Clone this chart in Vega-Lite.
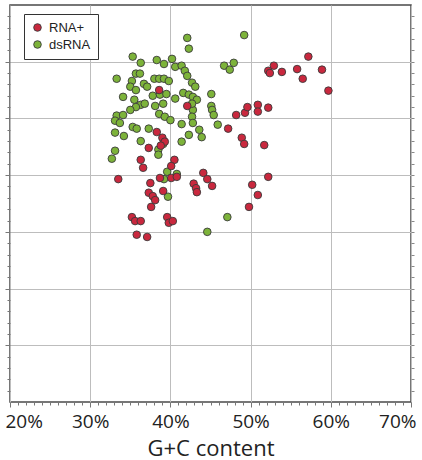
{
  "$schema": "https://vega.github.io/schema/vega-lite/v6.json",
  "width": 401,
  "height": 397,
  "autosize": {"type": "none"},
  "padding": {"left": 10, "top": 5, "right": 11, "bottom": 58},
  "config": {
    "view": {"stroke": "#4a4a4a", "strokeWidth": 1.5},
    "font": "Open Sans",
    "axis": {"domain": false}
  },
  "data": {
    "values": [
      {"gc": 42.1, "v": 6.42, "type": "dsRNA"},
      {"gc": 42.3, "v": 6.23, "type": "dsRNA"},
      {"gc": 49.2, "v": 6.47, "type": "dsRNA"},
      {"gc": 35.3, "v": 6.09, "type": "dsRNA"},
      {"gc": 36.3, "v": 5.98, "type": "dsRNA"},
      {"gc": 38.3, "v": 6.03, "type": "dsRNA"},
      {"gc": 39.2, "v": 5.96, "type": "dsRNA"},
      {"gc": 40.2, "v": 6.05, "type": "dsRNA"},
      {"gc": 40.6, "v": 5.91, "type": "dsRNA"},
      {"gc": 41.4, "v": 5.93, "type": "dsRNA"},
      {"gc": 41.8, "v": 5.84, "type": "dsRNA"},
      {"gc": 42.1, "v": 5.75, "type": "dsRNA"},
      {"gc": 35.7, "v": 5.79, "type": "dsRNA"},
      {"gc": 36.2, "v": 5.79, "type": "dsRNA"},
      {"gc": 33.3, "v": 5.70, "type": "dsRNA"},
      {"gc": 35.2, "v": 5.66, "type": "dsRNA"},
      {"gc": 36.7, "v": 5.61, "type": "dsRNA"},
      {"gc": 38.0, "v": 5.70, "type": "dsRNA"},
      {"gc": 38.6, "v": 5.70, "type": "dsRNA"},
      {"gc": 39.2, "v": 5.70, "type": "dsRNA"},
      {"gc": 39.8, "v": 5.66, "type": "dsRNA"},
      {"gc": 42.7, "v": 5.63, "type": "dsRNA"},
      {"gc": 43.1, "v": 5.56, "type": "dsRNA"},
      {"gc": 35.0, "v": 5.56, "type": "dsRNA"},
      {"gc": 35.7, "v": 5.50, "type": "dsRNA"},
      {"gc": 37.1, "v": 5.56, "type": "dsRNA"},
      {"gc": 37.8, "v": 5.40, "type": "dsRNA"},
      {"gc": 38.7, "v": 5.42, "type": "dsRNA"},
      {"gc": 39.5, "v": 5.43, "type": "dsRNA"},
      {"gc": 40.6, "v": 5.35, "type": "dsRNA"},
      {"gc": 41.6, "v": 5.45, "type": "dsRNA"},
      {"gc": 42.3, "v": 5.42, "type": "dsRNA"},
      {"gc": 42.8, "v": 5.38, "type": "dsRNA"},
      {"gc": 43.3, "v": 5.33, "type": "dsRNA"},
      {"gc": 34.1, "v": 5.38, "type": "dsRNA"},
      {"gc": 35.5, "v": 5.33, "type": "dsRNA"},
      {"gc": 36.3, "v": 5.24, "type": "dsRNA"},
      {"gc": 36.8, "v": 5.26, "type": "dsRNA"},
      {"gc": 35.7, "v": 5.20, "type": "dsRNA"},
      {"gc": 35.0, "v": 5.15, "type": "dsRNA"},
      {"gc": 38.1, "v": 5.22, "type": "dsRNA"},
      {"gc": 39.1, "v": 5.26, "type": "dsRNA"},
      {"gc": 42.8, "v": 5.15, "type": "dsRNA"},
      {"gc": 42.7, "v": 5.26, "type": "dsRNA"},
      {"gc": 33.3, "v": 5.05, "type": "dsRNA"},
      {"gc": 34.1, "v": 5.06, "type": "dsRNA"},
      {"gc": 33.1, "v": 4.96, "type": "dsRNA"},
      {"gc": 33.7, "v": 4.92, "type": "dsRNA"},
      {"gc": 38.6, "v": 5.08, "type": "dsRNA"},
      {"gc": 39.3, "v": 5.03, "type": "dsRNA"},
      {"gc": 40.0, "v": 4.97, "type": "dsRNA"},
      {"gc": 42.7, "v": 5.03, "type": "dsRNA"},
      {"gc": 42.8, "v": 4.92, "type": "dsRNA"},
      {"gc": 41.4, "v": 4.90, "type": "dsRNA"},
      {"gc": 33.1, "v": 4.75, "type": "dsRNA"},
      {"gc": 34.2, "v": 4.69, "type": "dsRNA"},
      {"gc": 35.3, "v": 4.85, "type": "dsRNA"},
      {"gc": 35.8, "v": 4.82, "type": "dsRNA"},
      {"gc": 37.3, "v": 4.82, "type": "dsRNA"},
      {"gc": 39.1, "v": 4.55, "type": "dsRNA"},
      {"gc": 36.3, "v": 4.60, "type": "dsRNA"},
      {"gc": 41.4, "v": 4.59, "type": "dsRNA"},
      {"gc": 42.3, "v": 4.71, "type": "dsRNA"},
      {"gc": 43.6, "v": 4.80, "type": "dsRNA"},
      {"gc": 43.9, "v": 4.67, "type": "dsRNA"},
      {"gc": 33.1, "v": 4.43, "type": "dsRNA"},
      {"gc": 32.7, "v": 4.29, "type": "dsRNA"},
      {"gc": 38.5, "v": 4.45, "type": "dsRNA"},
      {"gc": 38.5, "v": 4.36, "type": "dsRNA"},
      {"gc": 39.6, "v": 4.06, "type": "dsRNA"},
      {"gc": 40.8, "v": 4.02, "type": "dsRNA"},
      {"gc": 39.7, "v": 3.62, "type": "dsRNA"},
      {"gc": 39.2, "v": 3.93, "type": "dsRNA"},
      {"gc": 44.6, "v": 3.00, "type": "dsRNA"},
      {"gc": 47.1, "v": 3.26, "type": "dsRNA"},
      {"gc": 46.7, "v": 5.93, "type": "dsRNA"},
      {"gc": 47.4, "v": 5.86, "type": "dsRNA"},
      {"gc": 47.9, "v": 5.98, "type": "dsRNA"},
      {"gc": 45.1, "v": 5.43, "type": "dsRNA"},
      {"gc": 45.1, "v": 5.22, "type": "dsRNA"},
      {"gc": 45.2, "v": 5.15, "type": "dsRNA"},
      {"gc": 45.4, "v": 5.06, "type": "dsRNA"},
      {"gc": 45.9, "v": 4.89, "type": "dsRNA"},
      {"gc": 38.6, "v": 5.50, "type": "RNA+"},
      {"gc": 42.1, "v": 5.22, "type": "RNA+"},
      {"gc": 38.3, "v": 4.76, "type": "RNA+"},
      {"gc": 39.0, "v": 4.66, "type": "RNA+"},
      {"gc": 39.3, "v": 4.59, "type": "RNA+"},
      {"gc": 37.3, "v": 4.48, "type": "RNA+"},
      {"gc": 38.8, "v": 4.52, "type": "RNA+"},
      {"gc": 36.3, "v": 4.27, "type": "RNA+"},
      {"gc": 36.6, "v": 4.13, "type": "RNA+"},
      {"gc": 40.5, "v": 4.27, "type": "RNA+"},
      {"gc": 40.1, "v": 4.16, "type": "RNA+"},
      {"gc": 38.7, "v": 3.95, "type": "RNA+"},
      {"gc": 40.1, "v": 3.95, "type": "RNA+"},
      {"gc": 40.8, "v": 3.97, "type": "RNA+"},
      {"gc": 33.5, "v": 3.93, "type": "RNA+"},
      {"gc": 44.1, "v": 4.04, "type": "RNA+"},
      {"gc": 44.6, "v": 3.93, "type": "RNA+"},
      {"gc": 45.2, "v": 3.81, "type": "RNA+"},
      {"gc": 42.9, "v": 3.85, "type": "RNA+"},
      {"gc": 43.2, "v": 3.77, "type": "RNA+"},
      {"gc": 43.3, "v": 3.70, "type": "RNA+"},
      {"gc": 37.5, "v": 3.86, "type": "RNA+"},
      {"gc": 37.3, "v": 3.69, "type": "RNA+"},
      {"gc": 37.8, "v": 3.63, "type": "RNA+"},
      {"gc": 38.1, "v": 3.56, "type": "RNA+"},
      {"gc": 39.1, "v": 3.72, "type": "RNA+"},
      {"gc": 37.6, "v": 3.44, "type": "RNA+"},
      {"gc": 35.2, "v": 3.26, "type": "RNA+"},
      {"gc": 35.6, "v": 3.19, "type": "RNA+"},
      {"gc": 36.3, "v": 3.19, "type": "RNA+"},
      {"gc": 39.6, "v": 3.26, "type": "RNA+"},
      {"gc": 39.8, "v": 3.16, "type": "RNA+"},
      {"gc": 40.3, "v": 3.19, "type": "RNA+"},
      {"gc": 35.8, "v": 2.95, "type": "RNA+"},
      {"gc": 37.1, "v": 2.91, "type": "RNA+"},
      {"gc": 57.2, "v": 6.09, "type": "RNA+"},
      {"gc": 52.9, "v": 5.93, "type": "RNA+"},
      {"gc": 52.2, "v": 5.84, "type": "RNA+"},
      {"gc": 52.4, "v": 5.80, "type": "RNA+"},
      {"gc": 53.9, "v": 5.82, "type": "RNA+"},
      {"gc": 55.8, "v": 5.87, "type": "RNA+"},
      {"gc": 58.9, "v": 5.86, "type": "RNA+"},
      {"gc": 56.5, "v": 5.70, "type": "RNA+"},
      {"gc": 59.7, "v": 5.49, "type": "RNA+"},
      {"gc": 48.2, "v": 5.06, "type": "RNA+"},
      {"gc": 49.3, "v": 5.10, "type": "RNA+"},
      {"gc": 49.6, "v": 5.20, "type": "RNA+"},
      {"gc": 50.9, "v": 5.24, "type": "RNA+"},
      {"gc": 50.9, "v": 5.12, "type": "RNA+"},
      {"gc": 52.2, "v": 5.19, "type": "RNA+"},
      {"gc": 47.2, "v": 4.82, "type": "RNA+"},
      {"gc": 48.9, "v": 4.66, "type": "RNA+"},
      {"gc": 49.2, "v": 4.55, "type": "RNA+"},
      {"gc": 51.7, "v": 4.53, "type": "RNA+"},
      {"gc": 52.2, "v": 3.97, "type": "RNA+"},
      {"gc": 50.2, "v": 3.83, "type": "RNA+"},
      {"gc": 50.9, "v": 3.65, "type": "RNA+"},
      {"gc": 49.8, "v": 3.44, "type": "RNA+"}
    ]
  },
  "layer": [
    {
      "mark": {"type": "point", "opacity": 0},
      "encoding": {
        "x": {"field": "gc", "type": "quantitative", "scale": {"domain": [20, 70], "nice": false, "zero": false},
          "axis": {"orient": "bottom", "values": [21,22,23,24,25,26,27,28,29,31,32,33,34,35,36,37,38,39,41,42,43,44,45,46,47,48,49,51,52,53,54,55,56,57,58,59,61,62,63,64,65,66,67,68,69], "labels": false, "grid": false, "ticks": true, "tickSize": 3, "tickColor": "#777", "title": null}},
        "y": {"field": "v", "type": "quantitative", "scale": {"domain": [0, 7], "nice": false, "zero": false},
          "axis": {"orient": "left", "values": [0.2,0.4,0.6,0.8,1.2,1.4,1.6,1.8,2.2,2.4,2.6,2.8,3.2,3.4,3.6,3.8,4.2,4.4,4.6,4.8,5.2,5.4,5.6,5.8,6.2,6.4,6.6,6.8], "labels": false, "grid": false, "tickSize": 3, "tickColor": "#777", "title": null}}
      }
    },
    {
      "mark": {"type": "point", "opacity": 0},
      "encoding": {
        "x": {"field": "gc", "type": "quantitative", "axis": null},
        "y": {"field": "v", "type": "quantitative",
          "axis": {"orient": "right", "values": [0.2,0.4,0.6,0.8,1,1.2,1.4,1.6,1.8,2,2.2,2.4,2.6,2.8,3,3.2,3.4,3.6,3.8,4,4.2,4.4,4.6,4.8,5,5.2,5.4,5.6,5.8,6,6.2,6.4,6.6,6.8], "labels": false, "grid": false, "tickSize": 3, "tickColor": "#888", "title": null}}
      }
    },
    {
      "mark": {"type": "circle", "size": 58, "opacity": 1, "stroke": "#3a3a3a", "strokeWidth": 0.9},
      "encoding": {
        "x": {"field": "gc", "type": "quantitative",
          "axis": {"orient": "bottom", "values": [20, 30, 40, 50, 60, 70], "labelExpr": "datum.value + '%'", "grid": true, "gridColor": "#bdbdbd", "gridWidth": 1, "tickSize": 5, "tickColor": "#777", "labelFontSize": 19, "labelColor": "#222", "labelPadding": 5, "labelFlush": true, "labelFlushOffset": 5, "labelOverlap": false, "title": "G+C content", "titleFontSize": 22, "titleFontWeight": "normal", "titleColor": "#222", "titlePadding": 7}},
        "y": {"field": "v", "type": "quantitative",
          "axis": {"orient": "left", "values": [1, 2, 3, 4, 5, 6], "labels": false, "grid": true, "gridColor": "#bdbdbd", "gridWidth": 1, "tickSize": 5, "tickColor": "#777", "title": null}},
        "color": {"field": "type", "type": "nominal",
          "scale": {"domain": ["RNA+", "dsRNA"], "range": ["#c9283e", "#7db33a"]},
          "legend": {"title": null, "orient": "none", "legendX": 14, "legendY": 9, "padding": 7, "strokeColor": "#333", "fillColor": "#ffffff", "labelFont": "Liberation Sans", "labelFontSize": 13, "labelColor": "#222", "labelOffset": 5, "labelExpr": "datum.label + '    '", "symbolType": "circle", "symbolSize": 58, "symbolStrokeColor": "#3a3a3a", "symbolStrokeWidth": 0.9, "rowPadding": 3}}
      }
    }
  ],
  "resolve": {"axis": {"x": "independent", "y": "independent"}}
}
